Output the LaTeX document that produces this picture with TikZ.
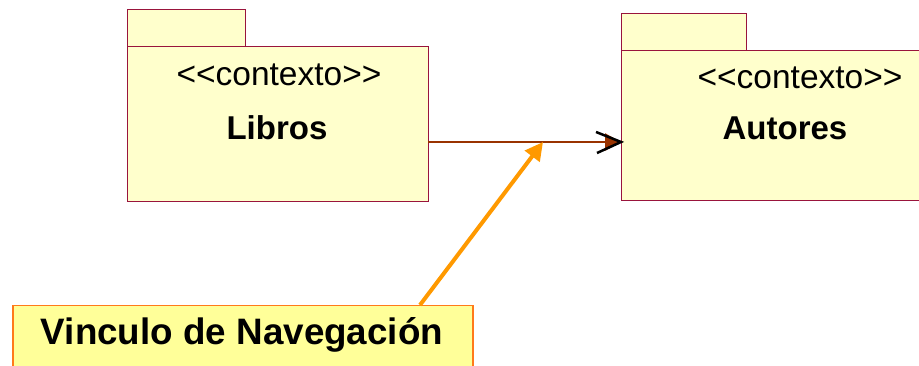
\documentclass[tikz,border=0pt]{standalone}
\usepackage{fontspec}
\setmainfont{Liberation Sans}
\usetikzlibrary{arrows.meta}
\definecolor{pkgfill}{HTML}{FFFFCC}
\definecolor{pkgline}{HTML}{99143C}
\definecolor{notefill}{HTML}{FFFF99}
\definecolor{noteline}{HTML}{FF7A1A}
\definecolor{linkbrown}{HTML}{993300}
\definecolor{pointer}{HTML}{FF9900}
\tikzset{
  pkgbox/.style={draw=pkgline, fill=pkgfill, line width=1pt, inner sep=0pt},
  notebox/.style={draw=noteline, fill=notefill, line width=1.5pt, inner sep=0pt},
  stereo/.style={font=\fontsize{33.5}{36}\selectfont},
  pkgname/.style={font=\fontsize{33}{36}\selectfont\bfseries},
}
\begin{document}
\begin{tikzpicture}[x=1pt,y=-1pt]
\useasboundingbox (0,0) rectangle (919,366);
\clip (0,0) rectangle (919,366);
% left package
\node[pkgbox, minimum width=118pt, minimum height=37pt, anchor=north west] (ltab) at (127,9) {};
\node[pkgbox, minimum width=301pt, minimum height=155pt, anchor=north west] (lbody) at (127,46) {};
\node[stereo] (lst) at (279,75) {<{}<contexto>{}>};
\node[pkgname] (lname) at (277,128) {Libros};
% right package
\node[pkgbox, minimum width=125pt, minimum height=37pt, anchor=north west] (rtab) at (621,13) {};
\node[pkgbox, minimum width=320pt, minimum height=150pt, anchor=north west] (rbody) at (621,50) {};
\node[stereo] (rst) at (800,78) {<{}<contexto>{}>};
\node[pkgname] (rname) at (785,128) {Autores};
% navigation link
\coordinate (lsrc) at (428,142);
\coordinate (rdst) at (621,142);
\draw[linkbrown, line width=2.5pt, -{Triangle[length=16pt,width=17pt,fill=linkbrown]}] (lsrc) -- (rdst);
\draw[black, line width=2.5pt, line join=miter] ([xshift=-25pt,yshift=10pt]rdst) -- (rdst) -- ([xshift=-24pt,yshift=-11pt]rdst);
% note
\node[notebox, minimum width=460pt, minimum height=80pt, anchor=north west] (note) at (12,305) {};
\node[font=\fontsize{36.8}{40}\selectfont\bfseries] (notetxt) at (242,335) {Vinculo de Navegación};
\coordinate (nsrc) at (420,305);
\coordinate (hit) at (543,142);
\draw[pointer, line width=4pt, -{Triangle[length=18pt,width=18pt]}] (nsrc) -- (hit);
\end{tikzpicture}
\end{document}
